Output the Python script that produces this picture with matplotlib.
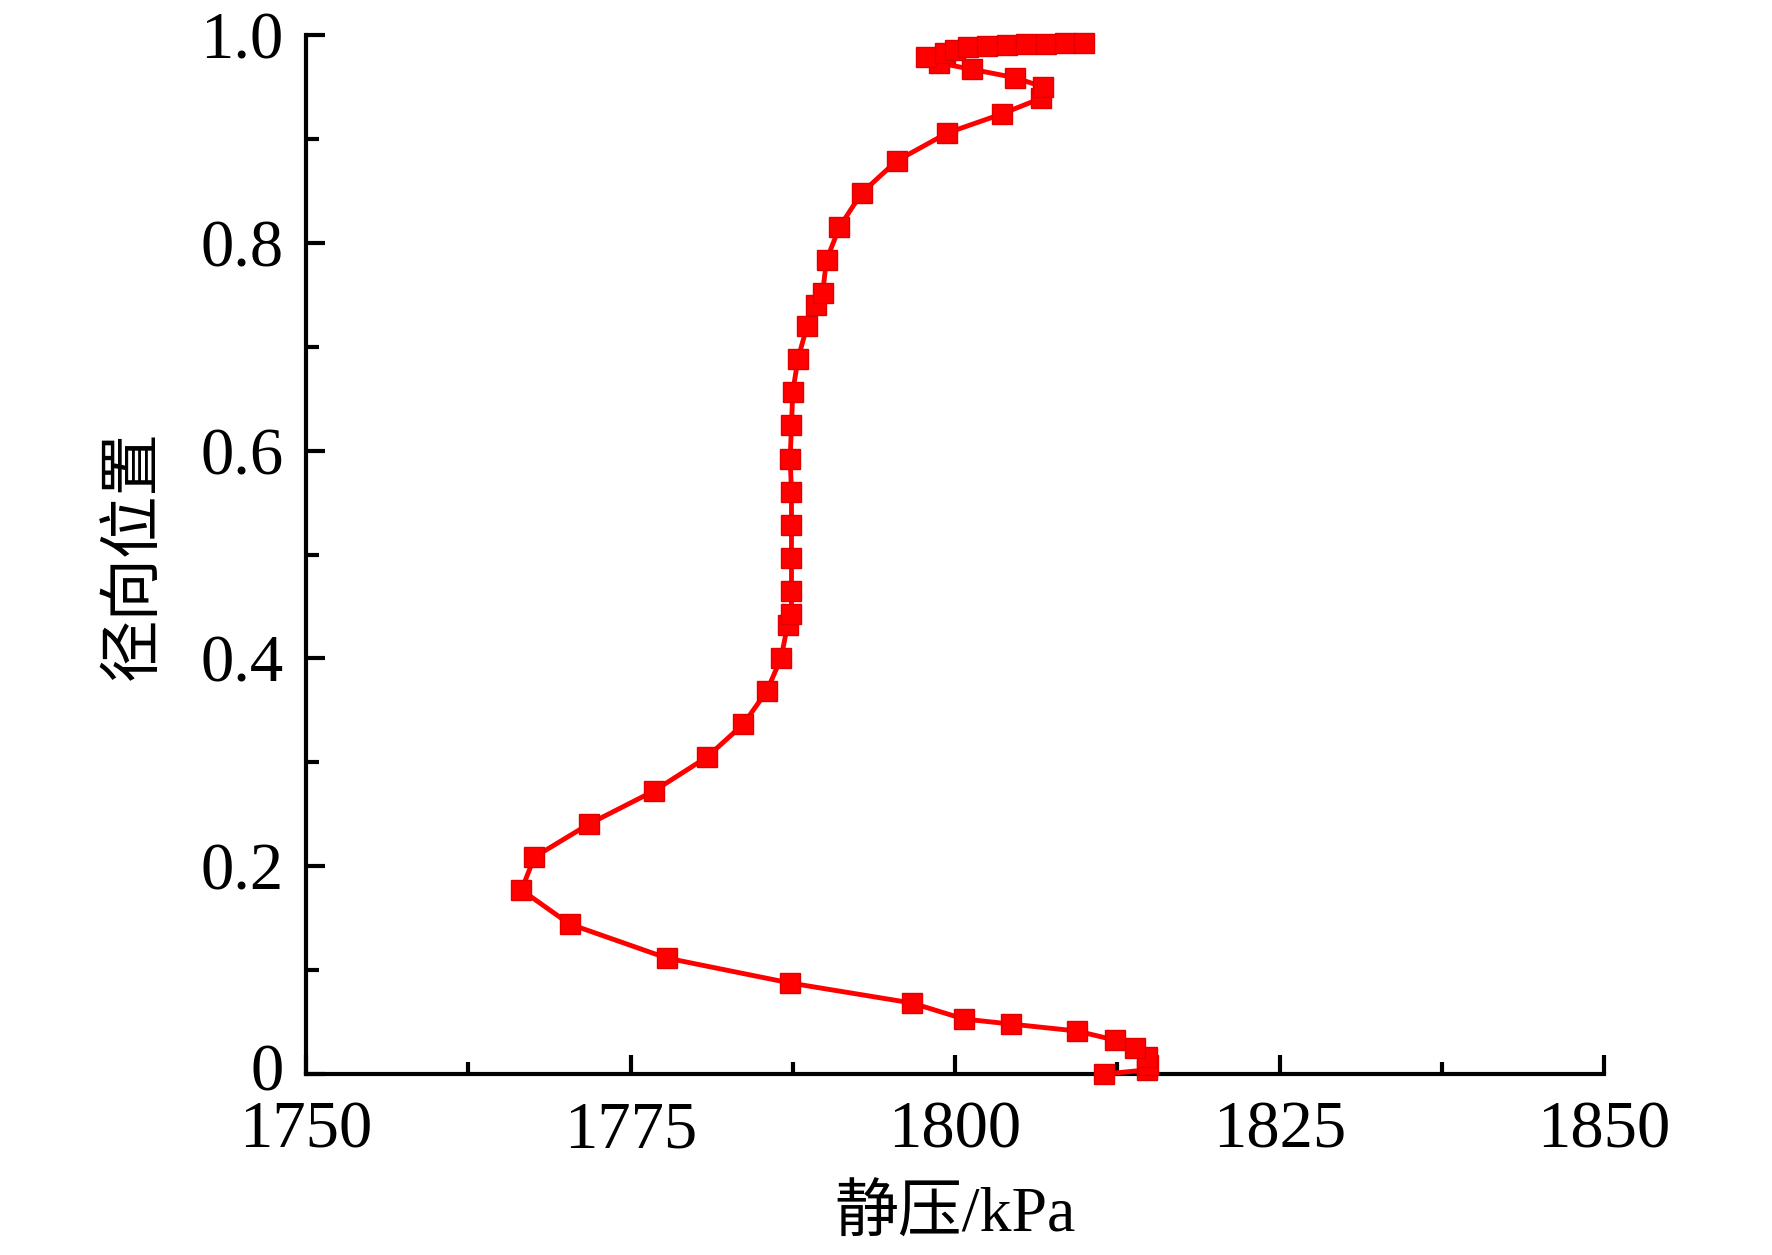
import matplotlib.pyplot as plt
from matplotlib.ticker import MultipleLocator
from matplotlib.transforms import ScaledTranslation

plt.rcParams['font.family'] = ['Liberation Serif', 'Noto Sans CJK SC']

#### Datos: perfil de presion estatica ####

pressure = [1811.5, 1814.8, 1814.9, 1814.8, 1813.9, 1812.3, 1809.4, 1804.3,
            1800.7, 1796.7, 1787.3, 1777.8, 1770.3, 1766.6, 1767.6, 1771.8,
            1776.8, 1780.9, 1783.7, 1785.5, 1786.6, 1787.1, 1787.4, 1787.4,
            1787.4, 1787.4, 1787.4, 1787.3, 1787.4, 1787.5, 1787.9, 1788.6,
            1789.3, 1789.8, 1790.1, 1791.1, 1792.8, 1795.5, 1799.4, 1803.6,
            1806.6, 1806.8, 1804.6, 1801.3, 1798.8, 1797.8, 1799.2, 1800.0,
            1801.0, 1802.5, 1804.0, 1805.5, 1807.0, 1808.5, 1809.9]
radial = [0.000, 0.004, 0.0085, 0.0165, 0.025, 0.0327, 0.0414, 0.0481,
          0.0529, 0.0683, 0.0876, 0.1116, 0.1444, 0.1771, 0.2089, 0.2406,
          0.2724, 0.3051, 0.3369, 0.3686, 0.4004, 0.4321, 0.4427, 0.4649,
          0.4966, 0.5284, 0.5602, 0.5919, 0.6246, 0.6564, 0.6882, 0.7199,
          0.7401, 0.7517, 0.7835, 0.8152, 0.8479, 0.8788, 0.9057, 0.924,
          0.939, 0.950, 0.959, 0.967, 0.973, 0.979, 0.983, 0.986,
          0.988, 0.989, 0.990, 0.991, 0.991, 0.992, 0.992]

x_ticks = [1750, 1775, 1800, 1825, 1850]
y_ticks = [0, 0.2, 0.4, 0.6, 0.8, 1.0]
y_tick_labels = ["0", "0.2", "0.4", "0.6", "0.8", "1.0"]

#### Grafico ####

fig = plt.figure(figsize=(17.72, 12.55), dpi=100)
ax = fig.add_axes([0.1727, 0.1442, 0.7325, 0.8279])

ax.plot(pressure, radial, color="#ff0000", lw=3.5, marker="s", ms=14.5,
        mfc="#ff0000", mec="#e00000", mew=1, clip_on=False, zorder=3)

ax.set_xlim(1750, 1850)
ax.set_ylim(0, 1.0)
ax.set_xticks(x_ticks)
ax.set_yticks(y_ticks)
ax.set_yticklabels(y_tick_labels, va="center_baseline")
ax.xaxis.set_minor_locator(MultipleLocator(12.5))
ax.yaxis.set_minor_locator(MultipleLocator(0.1))

for side in ["top", "right"]:
    ax.spines[side].set_visible(False)
for side in ["left", "bottom"]:
    ax.spines[side].set_linewidth(3)

ax.tick_params(which="major", direction="in", length=14, width=3,
               labelsize=48, pad=19)
ax.tick_params(which="minor", direction="in", length=9, width=3)
ax.tick_params(axis="y", which="major", pad=16)

# subir un poco la etiqueta "0" para que no choque con "1750"
lab0 = ax.yaxis.get_major_ticks()[0].label1
lab0.set_transform(lab0.get_transform() +
                   ScaledTranslation(0, 5 / 72, fig.dpi_scale_trans))

ax.set_xlabel("静压/kPa", fontsize=46, labelpad=18)
ax.set_ylabel("径向位置", fontsize=45, labelpad=26)

plt.savefig("out.png", dpi=100)
plt.close()
